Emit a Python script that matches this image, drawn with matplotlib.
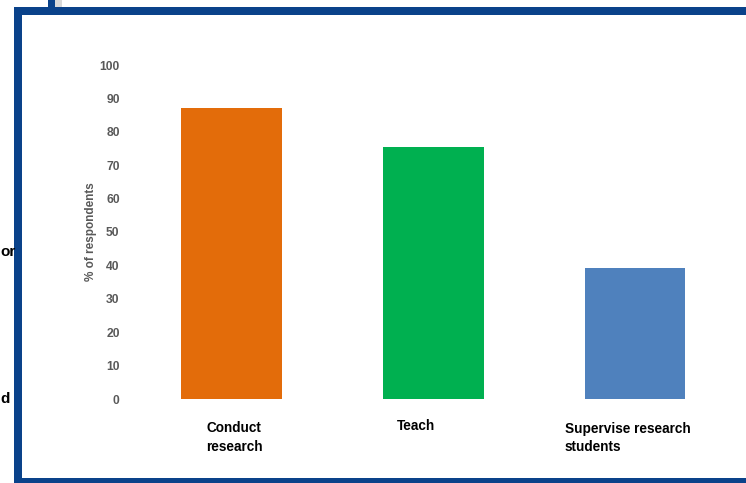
import matplotlib
matplotlib.use("Agg")
import matplotlib.pyplot as plt
from matplotlib.patches import Rectangle

categories = ["Conduct\nresearch", "Teach", "Supervise research\nstudents"]
values = [87, 75.5, 39.3]
colors = ["#E36C0A", "#00B050", "#4F81BD"]
yticks = [0, 10, 20, 30, 40, 50, 60, 70, 80, 90, 100]
ylabel = "% of respondents"

plt.rcParams['font.family'] = ['Liberation Sans', 'DejaVu Sans']

W, H = 746, 483
fig = plt.figure(figsize=(W / 100, H / 100), dpi=100)
fig.patch.set_facecolor("white")

frame_blue = "#0A428A"
def px_rect(x0, y0, x1, y1, color, **kw):
    fig.patches.append(Rectangle((x0 / W, 1 - y1 / H), (x1 - x0) / W, (y1 - y0) / H,
                                 transform=fig.transFigure, facecolor=color,
                                 edgecolor="none", **kw))

px_rect(14, 7, 22, 483, frame_blue)        # left
px_rect(14, 7, 746, 15, frame_blue)        # top
px_rect(14, 478, 746, 483, frame_blue)     # bottom
px_rect(48, 0, 55, 7, frame_blue)          # small segment above
px_rect(55, 0, 62, 7, "#D9D9D9")

# partial text at the left edge
fig.text(0.5 / W, 1 - 252 / H, "or", fontsize=11, fontweight="bold", color="black",
         ha="left", va="center")
fig.text(0.5 / W, 1 - 399 / H, "d", fontsize=11, fontweight="bold", color="black",
         ha="left", va="center")

ax = fig.add_axes([130.75 / W, 1 - 399 / H, 605 / W, (399 - 65) / H])
x = list(range(len(categories)))
ax.bar(x, values, width=0.5, color=colors)
ax.set_xlim(-0.5, 2.5)
ax.set_ylim(0, 100)
ax.set_yticks(yticks)
ax.set_yticklabels([str(v) for v in yticks], fontsize=8.7, fontweight="bold", color="#595959")
ax.set_xticks(x)
ax.set_xticklabels([])
offsets = [(-25.5, -22.5), (-36, -19.5), (-70, -22.5)]
for xi, lab, (dx, dy) in zip(x, categories, offsets):
    ax.annotate(lab, xy=(xi, 0), xycoords="data", xytext=(dx, dy),
                textcoords="offset pixels", ha="left", va="top",
                fontsize=9.8, fontweight="bold", color="black",
                linespacing=1.45, annotation_clip=False)
ax.tick_params(axis="both", length=0)
ax.tick_params(axis="y", pad=8)
for s in ax.spines.values():
    s.set_visible(False)
ax.set_ylabel(ylabel, fontsize=8.5, fontweight="bold", color="#595959", labelpad=2)

fig.savefig("out.png", dpi=100, facecolor="white")
